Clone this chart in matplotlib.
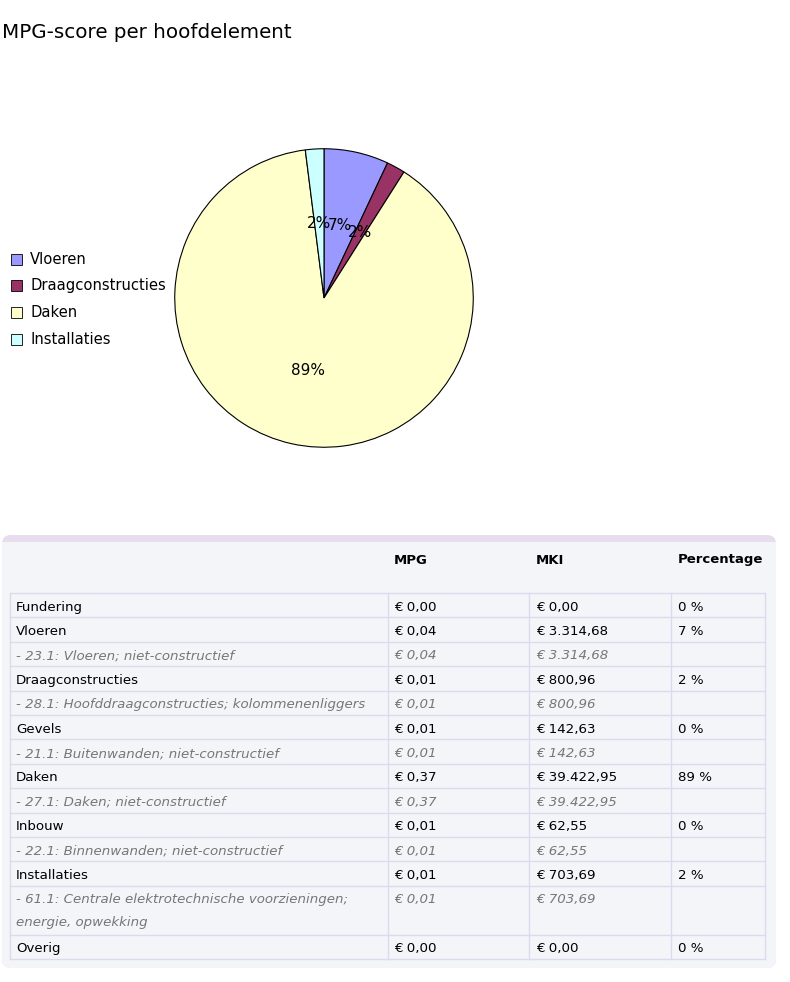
import matplotlib.pyplot as plt
from matplotlib.patches import FancyBboxPatch, Rectangle

# pie data (rounded percentage per hoofdelement)
pie_labels = ["Vloeren", "Draagconstructies", "Daken", "Installaties"]
pie_values = [7, 2, 89, 2]
pie_colors = ["#9999ff", "#993366", "#ffffcc", "#ccffff"]

# table data
col_headers = ["MPG", "MKI", "Percentage"]
row_names = ["Fundering", "Vloeren", "- 23.1: Vloeren; niet-constructief",
             "Draagconstructies", "- 28.1: Hoofddraagconstructies; kolommenenliggers",
             "Gevels", "- 21.1: Buitenwanden; niet-constructief",
             "Daken", "- 27.1: Daken; niet-constructief",
             "Inbouw", "- 22.1: Binnenwanden; niet-constructief",
             "Installaties", "- 61.1: Centrale elektrotechnische voorzieningen;\nenergie, opwekking",
             "Overig"]
row_mpg = ["€ 0,00", "€ 0,04", "€ 0,04", "€ 0,01", "€ 0,01", "€ 0,01", "€ 0,01",
           "€ 0,37", "€ 0,37", "€ 0,01", "€ 0,01", "€ 0,01", "€ 0,01", "€ 0,00"]
row_mki = ["€ 0,00", "€ 3.314,68", "€ 3.314,68", "€ 800,96", "€ 800,96", "€ 142,63", "€ 142,63",
           "€ 39.422,95", "€ 39.422,95", "€ 62,55", "€ 62,55", "€ 703,69", "€ 703,69", "€ 0,00"]
row_pct = ["0 %", "7 %", "", "2 %", "", "0 %", "", "89 %", "", "0 %", "", "2 %", "", "0 %"]

W, H = 790, 982
fig = plt.figure(figsize=(W / 100, H / 100), dpi=100)
fig.patch.set_facecolor("white")

# overlay axes in pixel coordinates
ov = fig.add_axes([0, 0, 1, 1])
ov.set_xlim(0, W)
ov.set_ylim(H, 0)
ov.axis("off")

ov.text(2, 32, "MPG-score per hoofdelement", fontsize=14.3, va="center", ha="left")

# pie
cx, cy, r = 324, 298, 150
pax = fig.add_axes([(cx - r) / W, 1 - (cy + r) / H, 2 * r / W, 2 * r / H])
wedges, texts, autotexts = pax.pie(pie_values, colors=pie_colors, startangle=90, counterclock=False,
                                   autopct="%1.0f%%", pctdistance=0.5,
                                   wedgeprops=dict(edgecolor="black", linewidth=0.8))
for t in autotexts:
    t.set_fontsize(11)
pax.set_xlim(-1.005, 1.005)
pax.set_ylim(-1.005, 1.005)
pax.set_aspect("equal")

# legend
for i, (lab, col) in enumerate(zip(pie_labels, pie_colors)):
    y = 259 + i * 26.7
    ov.add_patch(Rectangle((11, y - 5.5), 11, 11, facecolor=col, edgecolor="black", linewidth=0.6))
    ov.text(30, y, lab, fontsize=10.6, va="center", ha="left")

# table box
ov.add_patch(FancyBboxPatch((2, 535), 774, 433, boxstyle="round,pad=0,rounding_size=9",
                            facecolor="#e8dcef", edgecolor="none"))
ov.add_patch(FancyBboxPatch((2, 542), 774, 426, boxstyle="round,pad=0,rounding_size=9",
                            facecolor="#f4f5f9", edgecolor="none"))
ov.add_patch(Rectangle((2, 542), 774, 12, facecolor="#f4f5f9", edgecolor="none"))

col_x = [10, 388, 529, 671, 765]
text_x = [16, 394, 536, 678]
line_col = "#d9dcee"

for x, h in zip(text_x[1:], col_headers):
    ov.text(x, 560, h, fontsize=9.5, fontweight="bold", va="center", ha="left")

top = 593
rh = 24.4
y = top
ov.plot([col_x[0], col_x[-1]], [y, y], color=line_col, lw=1)
for name, mpg, mki, pct in zip(row_names, row_mpg, row_mki, row_pct):
    sub = name.startswith("-")
    nlines = name.count("\n") + 1
    h = rh * nlines
    color = "#777777" if sub else "black"
    style = "italic" if sub else "normal"
    for k, line in enumerate(name.split("\n")):
        ov.text(text_x[0], y + rh / 2 + 2 + k * 23, line, fontsize=9.6, color=color,
                style=style, va="center", ha="left")
    for x, val in zip(text_x[1:], [mpg, mki, pct]):
        ov.text(x, y + rh / 2 + 2, val, fontsize=9.6, color=color, style=style,
                va="center", ha="left")
    for x in col_x:
        ov.plot([x, x], [y, y + h], color=line_col, lw=1)
    y += h
    ov.plot([col_x[0], col_x[-1]], [y, y], color=line_col, lw=1)

fig.savefig("out.png", dpi=100)
